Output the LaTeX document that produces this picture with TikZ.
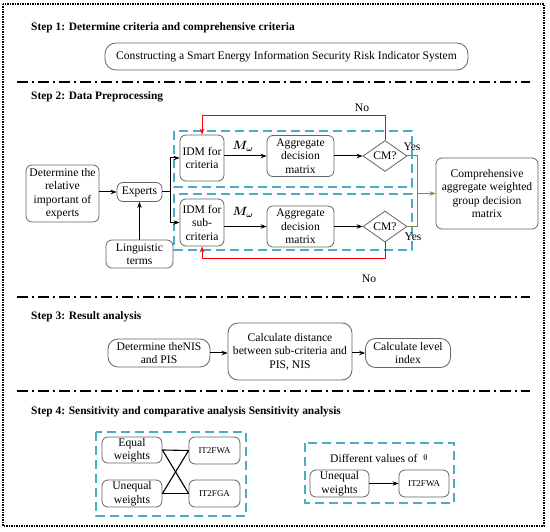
\documentclass[tikz,border=0pt]{standalone}
\usepackage{amsmath}
\usepackage{fontspec}
\setmainfont{Liberation Serif}
\usetikzlibrary{arrows.meta,shapes.geometric}
\definecolor{aqua}{RGB}{75,172,198}
\definecolor{olivegr}{RGB}{118,146,60}
\definecolor{boxgray}{RGB}{100,100,100}
\begin{document}
\begin{tikzpicture}[x=1pt,y=-1pt,
  every node/.style={inner sep=1pt},
  box/.style={draw=boxgray, line width=0.8pt, rounded corners=6pt, align=center,
    font=\fontsize{11.6}{13.5}\selectfont},
  smallbox/.style={box, font=\fontsize{9}{10}\selectfont},
  pill/.style={box, rounded corners=11pt},
  dec/.style={draw=boxgray, line width=0.8pt, diamond, inner sep=0pt, minimum width=44pt, minimum height=27pt, font=\fontsize{11.6}{13}\selectfont},
  steptitle/.style={anchor=west, font=\fontsize{11.4}{13}\selectfont\bfseries},
  lbl/.style={font=\fontsize{11.6}{13}\selectfont},
  sep/.style={line width=1.6pt, dash pattern=on 11pt off 4pt on 2pt off 4pt},
  grp/.style={draw=aqua, line width=1.3pt, dash pattern=on 9pt off 5pt},
  arr/.style={line width=1pt, -{Stealth[length=6pt,width=4.5pt]}},
  conn/.style={line width=1.1pt},
  redarr/.style={draw=red, line width=1pt, -{Stealth[length=6pt,width=4.5pt]}},
  grn/.style={draw=olivegr, line width=1pt}
]
\useasboundingbox (0,0) rectangle (550,532);
% outer border
\draw[line width=1.4pt, dash pattern=on 1.5pt off 1pt] (3,4) rectangle (544,526);

% separators
\coordinate (s1a) at (17,82);  \coordinate (s1b) at (530,82);
\coordinate (s2a) at (17,297); \coordinate (s2b) at (530,297);
\coordinate (s3a) at (17,391); \coordinate (s3b) at (530,391);
\draw[sep] (s1a) -- (s1b);
\draw[sep] (s2a) -- (s2b);
\draw[sep] (s3a) -- (s3b);

% Step 1
\node[steptitle] (t1) at (30,28) {Step 1: Determine criteria and comprehensive criteria};
\node[pill, minimum width=363pt, minimum height=27pt] (cons) at (286.5,56.5) {Constructing a Smart Energy Information Security Risk Indicator System};

% Step 2
\node[steptitle] (t2) at (30,97) {Step 2: Data Preprocessing};
\draw[grp] (174,131) rectangle (412,187);
\draw[grp] (174,194) rectangle (412,250);

\node[box, minimum width=73pt, minimum height=57pt] (det) at (62.5,193.5) {Determine the\\relative\\important of\\experts};
\node[box, minimum width=45pt, minimum height=19pt] (exp) at (139.5,192) {Experts};
\node[box, minimum width=67pt, minimum height=28pt] (ling) at (139.5,254) {Linguistic\\terms};
\node[box, minimum width=44pt, minimum height=46pt] (idm1) at (202,158) {IDM for\\criteria};
\node[box, minimum width=44pt, minimum height=47pt] (idm2) at (202,222.5) {IDM for\\sub-\\criteria};
\node[box, minimum width=67pt, minimum height=41pt] (agg1) at (300.5,156) {Aggregate\\decision\\matrix};
\node[box, minimum width=67pt, minimum height=41pt] (agg2) at (300.5,226.5) {Aggregate\\decision\\matrix};
\node[dec] (cm1) at (385,156) {CM?};
\node[dec] (cm2) at (385,226.5) {CM?};
\node[box, minimum width=102pt, minimum height=71pt] (comp) at (487,193.5) {Comprehensive\\aggregate weighted\\group decision\\matrix};

\node[lbl] (mw1) at (243,146) {$\boldsymbol{M_{\omega}}$};
\node[lbl] (mw2) at (243,212) {$\boldsymbol{M_{\omega}}$};
\node[lbl] (yes1) at (412,147) {Yes};
\node[lbl] (yes2) at (413,237) {Yes};
\node[lbl] (no1) at (362,108) {No};
\node[lbl] (no2) at (369,279) {No};

\draw[arr] (det.east |- exp) -- (exp.west);
\draw[arr] (ling.north) -- (exp.south);
\coordinate (split) at (170,192);
\draw[conn, line width=1pt] (exp.east) -- (split);
\draw[arr] (split) |- (idm1.west);
\draw[arr] (split) |- (idm2.west);
\draw[arr] (idm1.east |- agg1) -- (agg1.west);
\draw[arr] (idm2.east |- agg2) -- (agg2.west);
\draw[arr] (agg1.east) -- (cm1.west);
\draw[arr] (agg2.east) -- (cm2.west);

\coordinate (rtop) at (385,116);
\coordinate (rbot) at (385,259);
\draw[redarr] (cm1.north) -- (rtop) -| (idm1.north);
\draw[redarr] (cm2.south) -- (rbot) -| (idm2.south);

\coordinate (gj) at (417,193.5);
\draw[grn] (cm1.east) -| (gj);
\draw[grn] (cm2.east) -| (gj);
\draw[grn, -{Stealth[length=6pt,width=4.5pt]}] (gj) -- (comp.west);

% Step 3
\node[steptitle] (t3) at (30,317) {Step 3: Result analysis};
\node[box, rounded corners=10pt, minimum width=102pt, minimum height=28pt] (nis) at (159,353) {Determine theNIS\\and PIS};
\node[box, rounded corners=10pt, minimum width=124pt, minimum height=57pt] (dist) at (290,351.5) {Calculate distance\\between sub-criteria and\\PIS, NIS};
\node[box, rounded corners=10pt, minimum width=85pt, minimum height=29pt] (lvl) at (408,353) {Calculate level\\index};
\draw[arr] (nis.east) -- (dist.west |- nis);
\draw[arr] (dist.east |- lvl) -- (lvl.west);

% Step 4
\node[steptitle] (t4) at (30,412) {Step 4: Sensitivity and comparative analysis Sensitivity analysis};
\draw[grp] (96,432) rectangle (246,516);
\draw[grp] (305,443) rectangle (454,503);
\node[box, minimum width=60pt, minimum height=26pt] (eq) at (132,450) {Equal\\weights};
\node[box, minimum width=60pt, minimum height=27pt] (uneq) at (132,493.5) {Unequal\\weights};
\node[smallbox, minimum width=51pt, minimum height=27pt] (fwa) at (214.5,450.5) {IT2FWA};
\node[smallbox, minimum width=51pt, minimum height=27pt] (fga) at (214.5,493.5) {IT2FGA};
\draw[conn] (eq.east) -- (fwa.west);
\draw[conn] (eq.east) -- (fga.west);
\draw[conn] (uneq.east) -- (fwa.west);
\draw[conn] (uneq.east) -- (fga.west);

\node[lbl, anchor=west] (diff) at (329,458) {Different values of\ \ \raisebox{1.5pt}{\fontsize{8.5}{9}\selectfont θ}};
\node[box, minimum width=59pt, minimum height=27pt] (uneqr) at (339.5,483.5) {Unequal\\weights};
\node[smallbox, minimum width=50pt, minimum height=27pt] (fwar) at (424,483.5) {IT2FWA};
\draw[arr] (uneqr.east) -- (fwar.west);
\end{tikzpicture}
\end{document}
